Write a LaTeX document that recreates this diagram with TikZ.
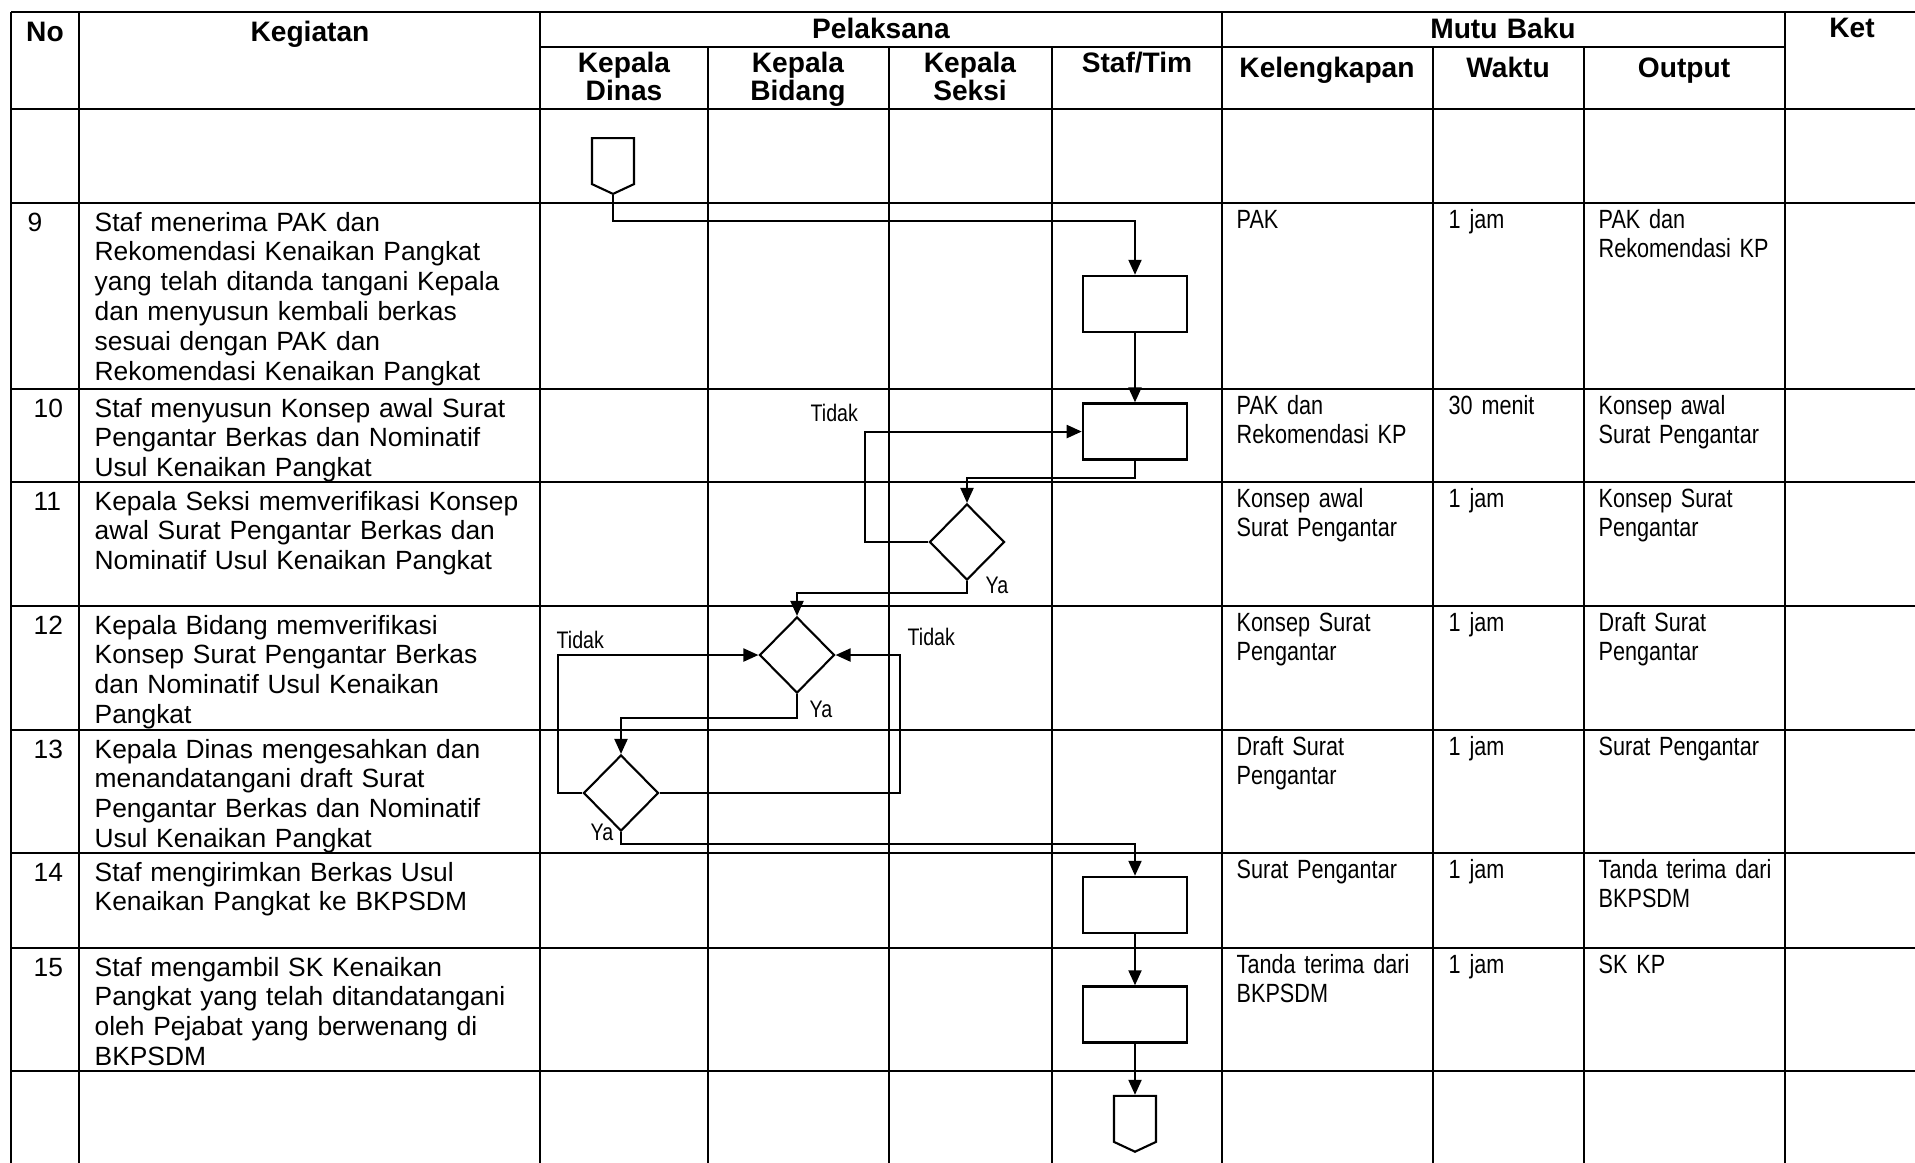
\documentclass[tikz,border=0pt]{standalone}
\usepackage{fontspec}
\setmainfont{Liberation Sans}
\newfontfamily\narrowfont{Liberation Sans}[FakeStretch=0.82]
\usetikzlibrary{positioning, shapes.geometric, shapes.symbols, arrows.meta}

\tikzset{
  grid/.style={line width=0.7pt},
  process/.style={draw, line width=0.7pt, rectangle, minimum width=1.04cm, minimum height=0.56cm, inner sep=0},
  decision/.style={draw, line width=0.6pt, diamond, aspect=1, minimum width=0.75cm, minimum height=0.76cm, inner sep=0},
  offpage/.style={draw, line width=0.6pt, signal, signal to=south, signal pointer angle=130, minimum width=0.42cm, minimum height=0.46cm, inner sep=0},
  flow/.style={line width=0.6pt, -{Triangle[length=1.5mm, width=1.3mm]}},
  head/.style={font=\bfseries\fontsize{8}{8}\selectfont, text width=2cm, align=center, anchor=base, inner sep=0},
  num/.style={font=\fontsize{7.5}{8.5}\selectfont, anchor=base west, inner sep=0},
  task/.style={font=\fontsize{7.5}{8.5}\selectfont, text width=4.4cm, align=left, anchor=base west, inner sep=0},
  note/.style={font=\narrowfont\fontsize{7.5}{8.5}\selectfont, text width=2cm, align=left, anchor=base west, inner sep=0},
  answer/.style={font=\narrowfont\fontsize{6.8}{8}\selectfont, anchor=base west, inner sep=0}
}

\begin{document}
\begin{tikzpicture}[x=0.01cm, y=-0.01cm]
  \useasboundingbox (0,0) rectangle (1915,1162);

  % Table grid
  \draw[grid] (11,12) -- (1925,12);
  \draw[grid] (540,47) -- (1785,47);
  \foreach \y in {109,203,389,482,606,730,853,948,1071}
    \draw[grid] (11,\y) -- (1925,\y);
  \foreach \x in {11,79,540,1222,1785}
    \draw[grid] (\x,12) -- (\x,1165);
  \foreach \x in {708,889,1052,1433,1584}
    \draw[grid] (\x,47) -- (\x,1165);

  % Header
  \node[head] (h_no) at (45,41) {No};
  \node[head] (h_kegiatan) at (310,41) {Kegiatan};
  \node[head] (h_pelaksana) at (881,38) {Pelaksana};
  \node[head] (h_mutu) at (1503,38) {Mutu Baku};
  \node[head] (h_ket) at (1852,37) {Ket};
  \node[head] (h_kadis) at (624,72) {Kepala\\Dinas};
  \node[head] (h_kabid) at (798,72) {Kepala\\Bidang};
  \node[head] (h_kasi) at (970,72) {Kepala\\Seksi};
  \node[head] (h_staf) at (1137,72) {Staf/Tim};
  \node[head] (h_lengkap) at (1327,77) {Kelengkapan};
  \node[head] (h_waktu) at (1508,77) {Waktu};
  \node[head] (h_output) at (1684,77) {Output};

  % Row numbers and activities
  \node[num] (no9) at (27,231) {9};
  \node[num] (no10) at (33,417) {10};
  \node[num] (no11) at (33,510) {11};
  \node[num] (no12) at (33,634) {12};
  \node[num] (no13) at (33,758) {13};
  \node[num] (no14) at (33,881) {14};
  \node[num] (no15) at (33,976) {15};

  \node[task] (act9) at (94,231) {Staf menerima PAK dan\\Rekomendasi Kenaikan Pangkat\\yang telah ditanda tangani Kepala\\dan menyusun kembali berkas\\sesuai dengan PAK dan\\Rekomendasi Kenaikan Pangkat};
  \node[task] (act10) at (94,417) {Staf menyusun Konsep awal Surat\\Pengantar Berkas dan Nominatif\\Usul Kenaikan Pangkat};
  \node[task] (act11) at (94,510) {Kepala Seksi memverifikasi Konsep\\awal Surat Pengantar Berkas dan\\Nominatif Usul Kenaikan Pangkat};
  \node[task] (act12) at (94,634) {Kepala Bidang memverifikasi\\Konsep Surat Pengantar Berkas\\dan Nominatif Usul Kenaikan\\Pangkat};
  \node[task] (act13) at (94,758) {Kepala Dinas mengesahkan dan\\menandatangani draft Surat\\Pengantar Berkas dan Nominatif\\Usul Kenaikan Pangkat};
  \node[task] (act14) at (94,881) {Staf mengirimkan Berkas Usul\\Kenaikan Pangkat ke BKPSDM};
  \node[task] (act15) at (94,976) {Staf mengambil SK Kenaikan\\Pangkat yang telah ditandatangani\\oleh Pejabat yang berwenang di\\BKPSDM};

  % Mutu baku
  \node[note] (kel9) at (1236,228) {PAK};
  \node[note] (wkt9) at (1448,228) {1 jam};
  \node[note] (out9) at (1598,228) {PAK dan\\Rekomendasi KP};
  \node[note] (kel10) at (1236,414) {PAK dan\\Rekomendasi KP};
  \node[note] (wkt10) at (1448,414) {30 menit};
  \node[note] (out10) at (1598,414) {Konsep awal\\Surat Pengantar};
  \node[note] (kel11) at (1236,507) {Konsep awal\\Surat Pengantar};
  \node[note] (wkt11) at (1448,507) {1 jam};
  \node[note] (out11) at (1598,507) {Konsep Surat\\Pengantar};
  \node[note] (kel12) at (1236,631) {Konsep Surat\\Pengantar};
  \node[note] (wkt12) at (1448,631) {1 jam};
  \node[note] (out12) at (1598,631) {Draft Surat\\Pengantar};
  \node[note] (kel13) at (1236,755) {Draft Surat\\Pengantar};
  \node[note] (wkt13) at (1448,755) {1 jam};
  \node[note] (out13) at (1598,755) {Surat Pengantar};
  \node[note] (kel14) at (1236,878) {Surat Pengantar};
  \node[note] (wkt14) at (1448,878) {1 jam};
  \node[note] (out14) at (1598,878) {Tanda terima dari\\BKPSDM};
  \node[note] (kel15) at (1236,973) {Tanda terima dari\\BKPSDM};
  \node[note] (wkt15) at (1448,973) {1 jam};
  \node[note] (out15) at (1598,973) {SK KP};

  %Define nodes
  \node[offpage, anchor=north] (start) at (613,137) {};
  \node[process] (box9) at (1135,304) {};
  \node[process, below=0.69cm of box9] (box10) {};
  \node[decision] (dec11) at (967,542) {};
  \node[decision] (dec12) at (797,655) {};
  \node[decision] (dec13) at (621,793) {};
  \node[process] (box14) at (1135,905) {};
  \node[process, below=0.51cm of box14] (box15) {};
  \node[offpage, below=0.51cm of box15] (finish) {};

  \coordinate (drop9) at (613,221);
  \coordinate (turn10) at (1135,478);
  \coordinate (loop11) at (865,542);
  \coordinate (turn11) at (967,593);
  \coordinate (loopl) at (558,793);
  \coordinate (loopr) at (900,793);
  \coordinate (turn12) at (797,718);
  \coordinate (turn13) at (621,844);

  % Connect the nodes
  \draw[flow] (start.south) -- (drop9) -| (box9.north);
  \draw[flow] (box9) -- (box10);
  \draw[flow] (box10.south) -- (turn10) -| (dec11.north);
  \draw[flow] (dec11.west) -- (loop11) |- (box10.west);
  \draw[flow] (dec11.south) -- (turn11) -| (dec12.north);
  \draw[flow] (dec13.west) -- (loopl) |- (dec12.west);
  \draw[flow] (dec13.east) -- (loopr) |- (dec12.east);
  \draw[flow] (dec12.south) -- (turn12) -| (dec13.north);
  \draw[flow] (dec13.south) -- (turn13) -| (box14.north);
  \draw[flow] (box14) -- (box15);
  \draw[flow] (box15) -- (finish);

  % Labels
  \node[answer] (no_a) at (810,421) {Tidak};
  \node[answer] (yes_a) at (985,593) {Ya};
  \node[answer] (no_b) at (556,648) {Tidak};
  \node[answer] (no_c) at (907,645) {Tidak};
  \node[answer] (yes_b) at (809,717) {Ya};
  \node[answer] (yes_c) at (590,840) {Ya};

\end{tikzpicture}
\end{document}
